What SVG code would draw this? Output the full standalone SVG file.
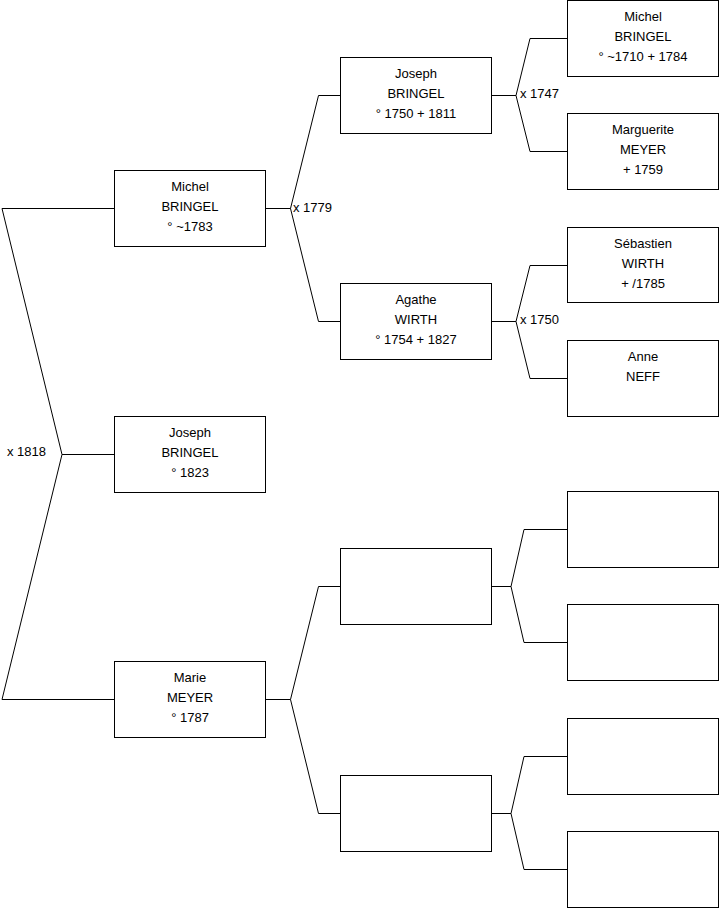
<svg xmlns="http://www.w3.org/2000/svg" width="719" height="908" viewBox="0 0 719 908">
<style>
rect.box{fill:#fff;stroke:#000;stroke-width:1}
.conn path{fill:none;stroke:#000;stroke-width:1}
text{font-family:"Liberation Sans",Arial,sans-serif;font-size:13px;fill:#000}
text.c{text-anchor:middle}
</style>
<rect width="719" height="908" fill="#fff"/>
<g class="conn" id="connectors">
<path d="M114.5,208.5 H2 L62,454.5 L2,699.5 H114.5 M62,454.5 H114.5"/>
<path d="M265.5,208.5 H290.5 M340.5,95.5 H318.5 L290.5,208.5 L318.5,321.5 H340.5"/>
<path d="M265.5,699.5 H290.5 M340.5,586.5 H318.5 L290.5,699.5 L318.5,813.5 H340.5"/>
<path d="M491.5,95.5 H516 M567.5,38.5 H530 L516,95.5 L530,151.5 H567.5"/>
<path d="M491.5,321.5 H516 M567.5,265.5 H530 L516,321.5 L530,378.5 H567.5"/>
<path d="M491.5,586.5 H511 M567.5,529.5 H524 L511,586.5 L524,642.5 H567.5"/>
<path d="M491.5,813.5 H511 M567.5,756.5 H524 L511,813.5 L524,869.5 H567.5"/>
<text x="7" y="456">x 1818</text>
<text x="293" y="212">x 1779</text>
<text x="520" y="97.5">x 1747</text>
<text x="520" y="324">x 1750</text>
</g>
<g id="n-michel-bringel-1783">
<rect class="box" x="114.5" y="170.5" width="151" height="76"/>
<text class="c" x="190" y="191">Michel</text>
<text class="c" x="190" y="211">BRINGEL</text>
<text class="c" x="190" y="231">° ~1783</text>
</g>
<g id="n-joseph-bringel-1823">
<rect class="box" x="114.5" y="416.5" width="151" height="76"/>
<text class="c" x="190" y="437">Joseph</text>
<text class="c" x="190" y="457">BRINGEL</text>
<text class="c" x="190" y="477">° 1823</text>
</g>
<g id="n-marie-meyer">
<rect class="box" x="114.5" y="661.5" width="151" height="76"/>
<text class="c" x="190" y="682">Marie</text>
<text class="c" x="190" y="702">MEYER</text>
<text class="c" x="190" y="722">° 1787</text>
</g>
<g id="n-joseph-bringel-1750">
<rect class="box" x="340.5" y="57.5" width="151" height="76"/>
<text class="c" x="416" y="78">Joseph</text>
<text class="c" x="416" y="98">BRINGEL</text>
<text class="c" x="416" y="118">° 1750 + 1811</text>
</g>
<g id="n-agathe-wirth">
<rect class="box" x="340.5" y="283.5" width="151" height="76"/>
<text class="c" x="416" y="304">Agathe</text>
<text class="c" x="416" y="324">WIRTH</text>
<text class="c" x="416" y="344">° 1754 + 1827</text>
</g>
<g id="n-empty-c2-3">
<rect class="box" x="340.5" y="548.5" width="151" height="76"/>
</g>
<g id="n-empty-c2-4">
<rect class="box" x="340.5" y="775.5" width="151" height="76"/>
</g>
<g id="n-michel-bringel-1710">
<rect class="box" x="567.5" y="0.5" width="151" height="76"/>
<text class="c" x="643" y="21">Michel</text>
<text class="c" x="643" y="41">BRINGEL</text>
<text class="c" x="643" y="61">° ~1710 + 1784</text>
</g>
<g id="n-marguerite-meyer">
<rect class="box" x="567.5" y="113.5" width="151" height="76"/>
<text class="c" x="643" y="134">Marguerite</text>
<text class="c" x="643" y="154">MEYER</text>
<text class="c" x="643" y="174">+ 1759</text>
</g>
<g id="n-sebastien-wirth">
<rect class="box" x="567.5" y="227.5" width="151" height="75"/>
<text class="c" x="643" y="248">Sébastien</text>
<text class="c" x="643" y="268">WIRTH</text>
<text class="c" x="643" y="288">+ /1785</text>
</g>
<g id="n-anne-neff">
<rect class="box" x="567.5" y="340.5" width="151" height="76"/>
<text class="c" x="643" y="361">Anne</text>
<text class="c" x="643" y="381">NEFF</text>
</g>
<g id="n-empty-c3-5">
<rect class="box" x="567.5" y="491.5" width="151" height="76"/>
</g>
<g id="n-empty-c3-6">
<rect class="box" x="567.5" y="604.5" width="151" height="76"/>
</g>
<g id="n-empty-c3-7">
<rect class="box" x="567.5" y="718.5" width="151" height="76"/>
</g>
<g id="n-empty-c3-8">
<rect class="box" x="567.5" y="831.5" width="151" height="76"/>
</g>
</svg>
